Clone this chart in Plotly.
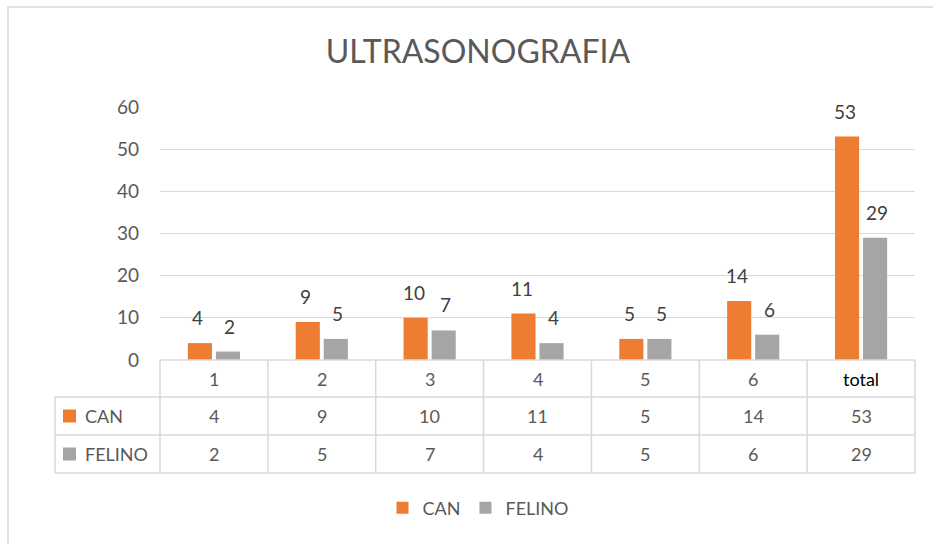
import plotly.graph_objects as go

categories = ["1", "2", "3", "4", "5", "6", "total"]
can_values = [4, 9, 10, 11, 5, 14, 53]
felino_values = [2, 5, 7, 4, 5, 6, 29]
series_names = ["CAN", "FELINO"]
title_text = "ULTRASONOGRAFIA"
y_ticks = [0, 10, 20, 30, 40, 50, 60]

ORANGE = "#ED7D31"
GRAY = "#A5A5A5"
TXT = "#595959"
LINE = "#D9D9D9"
FONT = "Lato"

W, H = 933, 544
L, R, T, B = 160, 18, 107, 184
PW = W - L - R
PH = H - T - B


def px_y(py):
    return (H - B - py) / PH


def px_x(px):
    return (px - L) / PW


fig = go.Figure()
fig.add_trace(go.Bar(x=categories, y=can_values, name=series_names[0],
                     marker_color=ORANGE, marker_line_width=0))
fig.add_trace(go.Bar(x=categories, y=felino_values, name=series_names[1],
                     marker_color=GRAY, marker_line_width=0))

annotations = []
# data labels (x given as category index on the category axis)
for vals, shift in ((can_values, -16), (felino_values, 16)):
    for i, v in enumerate(vals):
        annotations.append(dict(x=i, y=v, xref="x", yref="y", text=str(v),
                                showarrow=False, xshift=shift, yshift=12,
                                yanchor="bottom",
                                font=dict(family=FONT, size=19, color="#404040")))

# table rows
row_lines = [360, 397, 435, 473]
row_centers = [(row_lines[i] + row_lines[i + 1]) / 2 for i in range(3)]
for i, c in enumerate(categories):
    annotations.append(dict(x=i, y=px_y(row_centers[0]), xref="x", yref="paper",
                            text=c, showarrow=False, yanchor="middle",
                            font=dict(family=FONT, size=18,
                                      color="#000000" if c == "total" else TXT)))
for r, vals in ((1, can_values), (2, felino_values)):
    for i, v in enumerate(vals):
        annotations.append(dict(x=i, y=px_y(row_centers[r]), xref="x", yref="paper",
                                text=str(v), showarrow=False, yanchor="middle",
                                font=dict(family=FONT, size=18, color=TXT)))
    annotations.append(dict(x=px_x(83), y=px_y(row_centers[r]), xref="paper", yref="paper",
                            text=series_names[r - 1], showarrow=False, xanchor="left",
                            yanchor="middle", font=dict(family=FONT, size=18, color=TXT)))

shapes = []
# table lines
left_px = 55
for i, py in enumerate(row_lines):
    x0 = 0 if i == 0 else px_x(left_px)
    shapes.append(dict(type="line", xref="paper", yref="paper", x0=x0, x1=1,
                       y0=px_y(py), y1=px_y(py), line=dict(color=LINE, width=1.5)))
shapes.append(dict(type="line", xref="paper", yref="paper", x0=px_x(left_px), x1=px_x(left_px),
                   y0=px_y(row_lines[1]), y1=px_y(row_lines[3]), line=dict(color=LINE, width=1.5)))
for i in range(len(categories) + 1):
    xv = i / len(categories)
    shapes.append(dict(type="line", xref="paper", yref="paper", x0=xv, x1=xv,
                       y0=px_y(row_lines[0]), y1=px_y(row_lines[3]),
                       line=dict(color=LINE, width=1.5)))
# table legend keys
for r, col in ((1, ORANGE), (2, GRAY)):
    cy = row_centers[r]
    shapes.append(dict(type="rect", xref="paper", yref="paper",
                       x0=px_x(63), x1=px_x(76), y0=px_y(cy - 6.5), y1=px_y(cy + 6.5),
                       fillcolor=col, line=dict(width=0)))
# chart border
shapes.append(dict(type="rect", xref="paper", yref="paper",
                   x0=px_x(8), x1=px_x(W + 20), y0=px_y(7), y1=px_y(H + 20),
                   line=dict(color=LINE, width=1.5), fillcolor="rgba(0,0,0,0)", layer="below"))

fig.update_layout(
    width=W, height=H,
    margin=dict(l=L, r=R, t=T, b=B),
    paper_bgcolor="white", plot_bgcolor="white",
    title=dict(text=title_text, x=478 / W, xanchor="center",
               y=1 - 52 / H, yanchor="middle",
               font=dict(family=FONT, size=32, color=TXT)),
    barmode="group", bargap=0.48, bargroupgap=0.14,
    showlegend=True,
    legend=dict(orientation="h", x=px_x(478), xanchor="center",
                y=px_y(508), yanchor="middle",
                font=dict(family=FONT, size=18, color=TXT), itemwidth=30,
                traceorder="normal"),
    annotations=annotations,
    shapes=shapes,
)
fig.update_xaxes(type="category", categoryorder="array", categoryarray=categories,
                 showticklabels=False, showgrid=False, showline=False, zeroline=False,
                 ticks="")
fig.update_yaxes(range=[0, 60], tickvals=y_ticks, showgrid=True, gridcolor=LINE,
                 gridwidth=1.3, zeroline=False, showline=False, ticks="",
                 ticklabelstandoff=20,
                 tickfont=dict(family=FONT, size=19, color=TXT))

fig.write_html("out.html", config={"displayModeBar": False},
               post_script="document.body.style.margin='0';")
